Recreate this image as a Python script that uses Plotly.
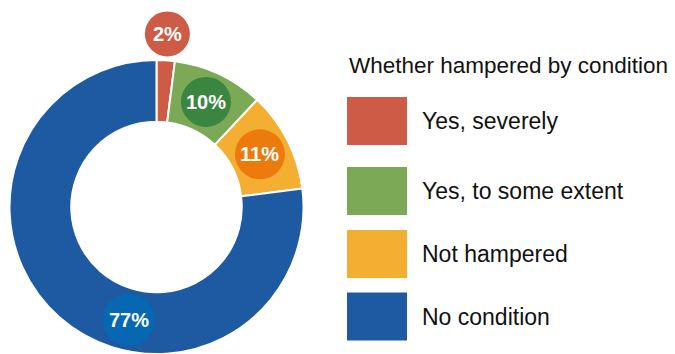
import math
import plotly.graph_objects as go

# ---- data ----
categories = ["Yes, severely", "Yes, to some extent", "Not hampered", "No condition"]
values = [2, 10, 11, 77]
value_labels = ["2%", "10%", "11%", "77%"]
legend_title = "Whether hampered by condition"

# ---- styling ----
slice_colors = ["#CD5B45", "#7BA956", "#F4AF32", "#1D5AA2"]
badge_colors = ["#CD5B45", "#3A8540", "#EC7A0C", "#0668B3"]
badge_diam = [45, 50, 50, 52]
label_frac = [0.5, 0.5, 0.5, 0.40]     # position of badge along slice
label_rad = [1.18, None, None, None]    # None -> middle of ring

W, H = 675, 354
cx_px, cy_px, r_px = 156.5, 207.0, 147.0
hole = 0.58

dom_x = [(cx_px - r_px) / W, (cx_px + r_px) / W]
dom_y = [(H - cy_px - r_px) / H, (H - cy_px + r_px) / H]

fig = go.Figure()
fig.add_trace(go.Pie(
    labels=categories, values=values, sort=False, direction="clockwise",
    rotation=0, hole=hole, textinfo="none", hoverinfo="label+percent",
    marker=dict(colors=slice_colors, line=dict(color="white", width=2)),
    domain=dict(x=dom_x, y=dom_y), showlegend=False,
))

shapes, annos = [], []
total = sum(values)
cum = 0
ring_mid = (1 + hole) / 2
for i, v in enumerate(values):
    a = 2 * math.pi * (cum + v * label_frac[i]) / total
    cum += v
    rr = r_px * (label_rad[i] if label_rad[i] else ring_mid)
    px = cx_px + rr * math.sin(a)
    py = cy_px - rr * math.cos(a)
    xa, ya = px / W, (H - py) / H
    d = badge_diam[i] / 2
    shapes.append(dict(type="circle", xref="paper", yref="paper",
                       xsizemode="pixel", ysizemode="pixel",
                       xanchor=xa, yanchor=ya, x0=-d, x1=d, y0=-d, y1=d,
                       fillcolor=badge_colors[i], line=dict(width=0), layer="above"))
    annos.append(dict(x=xa, y=ya, xref="paper", yref="paper", text=value_labels[i],
                      showarrow=False, xanchor="center", yanchor="middle",
                      font=dict(family="Liberation Sans", size=20, color="white", weight="bold")))

# ---- custom legend ----
leg_x0, leg_sw_w, leg_sw_h, leg_text_x = 347, 60, 48, 420
legend_rows_px = [121, 191, 254, 316.5]
annos.append(dict(x=leg_x0 / W, y=(H - 65) / H, xref="paper", yref="paper",
                  text=legend_title, showarrow=False, xanchor="left", yanchor="middle",
                  font=dict(family="Liberation Sans", size=22.5, color="#111111")))
for i, cat in enumerate(categories):
    yc = legend_rows_px[i]
    shapes.append(dict(type="rect", xref="paper", yref="paper",
                       x0=leg_x0 / W, x1=(leg_x0 + leg_sw_w) / W,
                       y0=(H - yc - leg_sw_h / 2) / H, y1=(H - yc + leg_sw_h / 2) / H,
                       fillcolor=slice_colors[i], line=dict(width=0)))
    annos.append(dict(x=leg_text_x / W, y=(H - yc) / H, xref="paper", yref="paper",
                      text=cat, showarrow=False, xanchor="left", yanchor="middle",
                      font=dict(family="Liberation Sans", size=23, color="#111111")))

fig.update_layout(width=W, height=H, margin=dict(l=0, r=0, t=0, b=0),
                  paper_bgcolor="white", plot_bgcolor="white",
                  shapes=shapes, annotations=annos)
fig.write_html("out.html")
